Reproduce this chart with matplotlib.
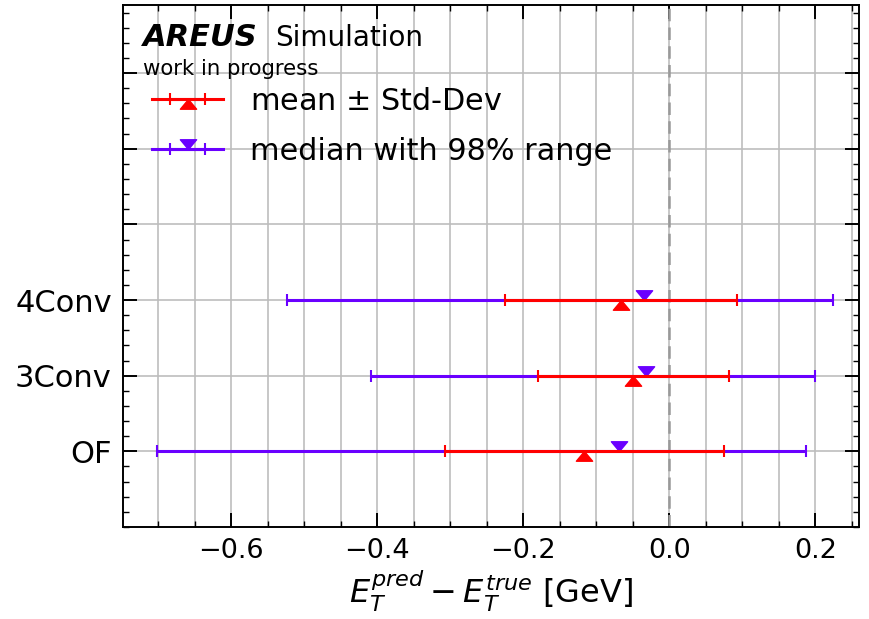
import matplotlib
matplotlib.use('Agg')
import matplotlib.pyplot as plt
from matplotlib.ticker import MultipleLocator, FixedLocator
from matplotlib.container import ErrorbarContainer
from matplotlib.legend_handler import HandlerErrorbar
from matplotlib.path import Path
import numpy as np

"""
Energy resolution of the different models: mean +- std and median with 98% range
"""

labels = ['OF', '3Conv', '4Conv']
mean = [-0.116, -0.049, -0.066]
std = [0.191, 0.131, 0.159]
median = [-0.069, -0.032, -0.034]
q01 = [-0.701, -0.408, -0.524]
q99 = [0.188, 0.200, 0.225]

plt.rcParams['font.family'] = ['DejaVu Sans']
plt.rcParams['mathtext.fontset'] = 'dejavusans'

# wide caret markers: tip on the bar, triangle below (mean) / above (median)
caret_up = Path([(0, 0), (-1.25, -1.5), (1.25, -1.5), (0, 0)], closed=True)
caret_down = Path([(0, 0), (-1.25, 1.5), (1.25, 1.5), (0, 0)], closed=True)

fig = plt.figure(figsize=(8.69, 6.19), dpi=100)
ax = fig.add_axes([0.1415, 0.1486, 0.847, 0.8433])

purple = '#6a00ff'
h_med, h_mean = None, None
for i in range(len(labels)):
    err = [[median[i] - q01[i]], [q99[i] - median[i]]]
    h = ax.errorbar([median[i]], [i], xerr=err, marker=caret_down, ls='-', lw=2.2,
                    color=purple, ms=14, elinewidth=2.2, capsize=4, capthick=1.5,
                    zorder=3)
    if h_med is None:
        h_med = h
for i in range(len(labels)):
    h = ax.errorbar([mean[i]], [i], xerr=[std[i]], marker=caret_up, ls='-', lw=2.2,
                    color='red', ms=14, elinewidth=2.2, capsize=4, capthick=1.5,
                    zorder=4)
    if h_mean is None:
        h_mean = h
ax.axvline(0, color='#999999', ls='--', lw=1.8, dashes=(5, 2.5), zorder=2.5)

ax.set_xlim(-0.748, 0.26)
ax.set_ylim(-1, 5.9)

ax.xaxis.set_major_locator(MultipleLocator(0.2))
ax.xaxis.set_minor_locator(MultipleLocator(0.05))
ax.yaxis.set_major_locator(FixedLocator(range(6)))
ax.yaxis.set_minor_locator(MultipleLocator(0.2))
ax.set_yticklabels(labels + ['', '', ''])

ax.grid(which='major', color='#bdbdbd', lw=1.2, zorder=0)
ax.grid(which='minor', axis='x', color='#bdbdbd', lw=1.2, zorder=0)
ax.set_axisbelow(True)

ax.tick_params(which='both', direction='in', top=True, right=True)
ax.tick_params(which='major', length=10, width=1.4, pad=8)
ax.tick_params(which='minor', length=4, width=1.0)
ax.tick_params(axis='x', which='major', labelsize=19.5)
ax.tick_params(axis='y', which='major', labelsize=22)
for s in ax.spines.values():
    s.set_linewidth(1.4)

ax.set_xlabel(r'$E_T^{pred} - E_T^{true}$ [GeV]', fontsize=23, labelpad=3)

ax.text(0.027, 0.921, 'AREUS', transform=ax.transAxes, fontsize=22,
        fontweight='bold', fontstyle='italic', va='baseline')
ax.text(0.2065, 0.921, 'Simulation', transform=ax.transAxes, fontsize=20,
        va='baseline')
ax.text(0.027, 0.866, 'work in progress', transform=ax.transAxes, fontsize=15.3,
        va='baseline')

ax.legend(handles=[h_mean, h_med],
          labels=[r'mean $\pm$ Std-Dev', 'median with 98% range'],
          loc='upper left', bbox_to_anchor=(0.0394, 0.843),
          borderaxespad=0, borderpad=0, frameon=False, fontsize=21.8,
          handlelength=2.35, handletextpad=0.9, labelspacing=0.68,
          handler_map={ErrorbarContainer: HandlerErrorbar(xerr_size=0.58)})

plt.savefig('out.png', dpi=100)
